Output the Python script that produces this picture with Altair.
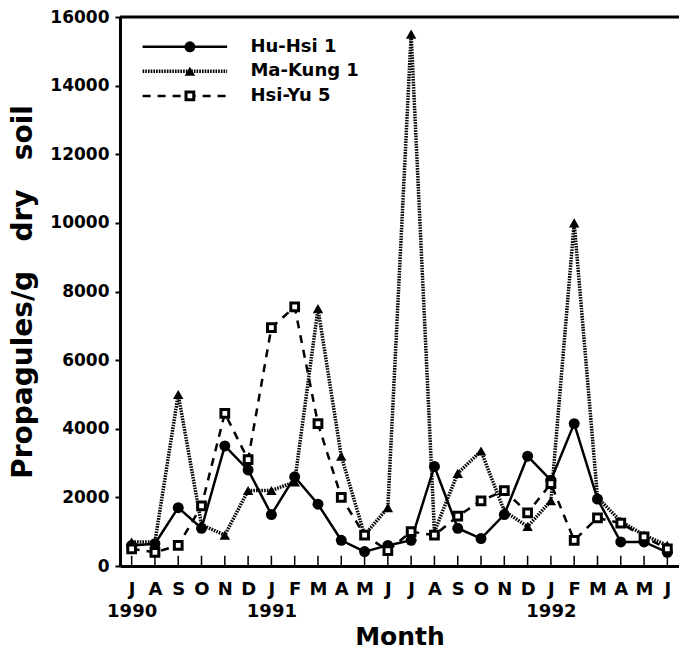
import json
import altair as alt
import pandas as pd

months = ["J", "A", "S", "O", "N", "D", "J", "F", "M", "A", "M", "J",
          "J", "A", "S", "O", "N", "D", "J", "F", "M", "A", "M", "J"]
years = ["1990", "", "", "", "", "", "1991", "", "", "", "", "",
         "", "", "", "", "", "", "1992", "", "", "", "", ""]
month_index = list(range(24))

hu_hsi_1 = [600, 650, 1700, 1100, 3500, 2800, 1500, 2600, 1800, 750, 420, 600,
            750, 2900, 1100, 800, 1500, 3200, 2500, 4150, 1950, 700, 700, 400]
ma_kung_1 = [700, 700, 5000, 1200, 900, 2200, 2200, 2450, 7500, 3200, 900, 1700,
             15500, 1000, 2700, 3350, 1600, 1150, 1900, 10000, 2000, 1300, 900, 600]
hsi_yu_5 = [500, 400, 600, 1750, 4450, 3100, 6950, 7550, 4150, 2000, 900, 450,
            1000, 900, 1450, 1900, 2200, 1550, 2400, 750, 1400, 1250, 850, 500]

series_names = ["Hu-Hsi 1", "Ma-Kung 1", "Hsi-Yu 5"]
series_values = [hu_hsi_1, ma_kung_1, hsi_yu_5]

# legend placement (in data units)
legend_y = [15130, 14420, 13700]
legend_x0, legend_xm, legend_x1, legend_xt = 0.47, 2.5, 4.1, 5.1

W, H = 559, 549
FONT = "DejaVu Sans"
XDOM = [-0.5, 23.5]
YDOM = [0, 16000]
NB = "\u00a0"
y_title = "Propagules/g" + NB * 3 + "dry" + NB * 3 + "soil"

label_expr = "[{}[datum.value], {}[datum.value]]".format(json.dumps(months), json.dumps(years))

xs = alt.Scale(domain=XDOM, nice=False, zero=False)
ys = alt.Scale(domain=YDOM, nice=False)

x_axis = alt.Axis(
    values=month_index, labelExpr=label_expr, title="Month", ticks=False,
    grid=False, domain=True, domainColor="black", domainWidth=3,
    labelFont=FONT, labelFontWeight="bold", labelFontSize=18, labelColor="black",
    labelPadding=14, labelLineHeight=22, labelAngle=0, labelAlign="center",
    labelOverlap=False, labelBound=False, labelFlush=False,
    titleFont=FONT, titleFontWeight="bold", titleFontSize=25, titleColor="black",
    titlePadding=4)
y_axis = alt.Axis(
    values=list(range(0, 16001, 2000)), format="d", title=y_title,
    grid=False, domain=True, domainColor="black", domainWidth=3,
    ticks=True, tickSize=5, tickColor="black", tickWidth=2,
    labelFont=FONT, labelFontWeight="bold", labelFontSize=17, labelColor="black",
    labelPadding=6, labelOverlap=False,
    titleFont=FONT, titleFontWeight="bold", titleFontSize=28, titleColor="black",
    titlePadding=12)


def X(field):
    return alt.X(field, scale=xs, axis=x_axis)


def Y(field):
    return alt.Y(field, scale=ys, axis=y_axis)


styles = {
    "Hu-Hsi 1": dict(line=dict(strokeWidth=2.5), point=dict(shape="circle", size=120, filled=True, fill="black", stroke="black", strokeWidth=0)),
    "Ma-Kung 1": dict(line=dict(strokeWidth=3.5, strokeDash=[1.6, 1.1]), point=dict(shape="triangle-up", size=110, filled=True, fill="black", stroke="black", strokeWidth=0)),
    "Hsi-Yu 5": dict(line=dict(strokeWidth=2.5, strokeDash=[8, 7]), point=dict(shape="square", size=60, filled=True, fill="white", stroke="black", strokeWidth=3)),
}

layers = []

# inward x ticks
tick_df = pd.DataFrame({"m": month_index, "y0": 0, "y1": 300})
layers.append(
    alt.Chart(tick_df).mark_rule(color="black", strokeWidth=1.5).encode(
        x=X("m:Q"), y=Y("y0:Q"), y2="y1:Q"
    )
)

# top border
layers.append(
    alt.Chart(pd.DataFrame({"a": [0]})).mark_rule(color="black", strokeWidth=3).encode(
        x=alt.value(0), x2=alt.value(W), y=alt.value(0)
    )
)

for name, vals in zip(series_names, series_values):
    df = pd.DataFrame({"m": month_index, "v": vals})
    st = styles[name]
    layers.append(
        alt.Chart(df).mark_line(color="black", **st["line"]).encode(x=X("m:Q"), y=Y("v:Q"))
    )
    layers.append(
        alt.Chart(df).mark_point(opacity=1, **st["point"]).encode(x=X("m:Q"), y=Y("v:Q"))
    )

# legend
for name, ly in zip(series_names, legend_y):
    st = styles[name]
    ldf = pd.DataFrame({"x0": [legend_x0], "x1": [legend_x1], "xm": [legend_xm], "xt": [legend_xt], "y": [ly], "t": [name]})
    layers.append(
        alt.Chart(ldf).mark_rule(color="black", **st["line"]).encode(x=X("x0:Q"), x2="x1:Q", y=Y("y:Q"))
    )
    layers.append(
        alt.Chart(ldf).mark_point(opacity=1, **st["point"]).encode(x=X("xm:Q"), y=Y("y:Q"))
    )
    layers.append(
        alt.Chart(ldf).mark_text(align="left", baseline="middle", font=FONT, fontWeight="bold",
                                 fontSize=18, color="black").encode(x=X("xt:Q"), y=Y("y:Q"), text="t:N")
    )

chart = alt.layer(*layers).properties(
    width=W, height=H,
    autosize=alt.AutoSizeParams(type="none"),
    padding={"left": 120, "top": 17, "right": 0, "bottom": 100},
).configure_view(stroke=None).configure_axis(labelOverlap=False).configure(background="white")

chart.save("out.html", embed_options={"renderer": "svg", "actions": False})
